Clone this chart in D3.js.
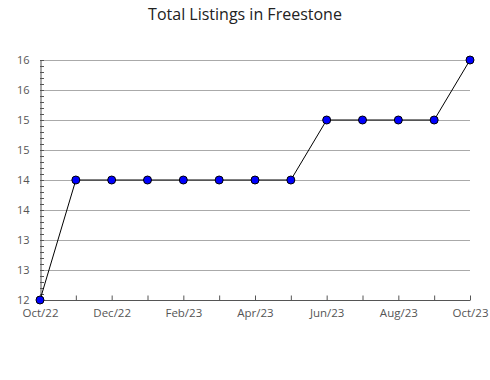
<!DOCTYPE html>
<html><head><meta charset="utf-8">
<script src="https://cdn.jsdelivr.net/npm/d3@7"></script>
<style>body{margin:0;background:#fff}svg{display:block}</style>
</head><body>
<script>
const months = ["Oct/22","Nov/22","Dec/22","Jan/23","Feb/23","Mar/23","Apr/23","May/23","Jun/23","Jul/23","Aug/23","Sep/23","Oct/23"];
const values = [12,14,14,14,14,14,14,14,15,15,15,15,16];
const yTicks = [12,12.5,13,13.5,14,14.5,15,15.5,16];
const yTickLabels = ["12","13","13","14","14","15","15","16","16"];
const xLabelShown = [true,false,true,false,true,false,true,false,true,false,true,false,true];
const title = "Total Listings in Freestone";

const W=490,H=380, L=40, R=470, T=60, B=300;
const svg = d3.select("body").append("svg").attr("width",W).attr("height",H);
const font = "'Open Sans', sans-serif";

svg.append("text").attr("x",245).attr("y",20).attr("text-anchor","middle")
  .attr("font-family",font).attr("font-size",16).attr("fill","#222").text(title);

const x = d3.scalePoint().domain(months).range([L,R]);
const y = d3.scaleLinear().domain([12,16]).range([B,T]);

// gridlines
svg.append("g").selectAll("line").data(yTicks.filter(d=>d>12)).join("line")
  .attr("x1",L).attr("x2",R).attr("y1",d=>y(d)+0.5).attr("y2",d=>y(d)+0.5)
  .attr("stroke","#aaa").attr("stroke-width",1);

// minor y ticks
const minor = d3.range(120,161).map(d=>d/10);
svg.append("g").selectAll("line").data(minor).join("line")
  .attr("x1",L).attr("x2",L+4).attr("y1",d=>Math.round(y(d))+0.5).attr("y2",d=>Math.round(y(d))+0.5)
  .attr("stroke","#555");

// y axis
const yAxis = d3.axisLeft(y).tickValues(yTicks).tickSize(0).tickPadding(11)
  .tickFormat((d,i)=>yTickLabels[i]);
const gy = svg.append("g").attr("transform",`translate(${L+0.5},0)`).call(yAxis);
gy.select(".domain").attr("stroke","#555");
gy.selectAll("text").attr("font-family",font).attr("font-size",11).attr("fill","#555");

// x axis
const xAxis = d3.axisBottom(x).tickSize(-5).tickPadding(8)
  .tickFormat((d,i)=>xLabelShown[i]?d:"");
const gx = svg.append("g").attr("transform",`translate(0,${B+0.5})`).call(xAxis);
gx.select(".domain").attr("stroke","#555").attr("d",`M${L},0H${R}`);
gx.selectAll(".tick line").attr("stroke","#555");
gx.selectAll("text").attr("font-family",font).attr("font-size",11.5).attr("fill","#555");

// line
svg.append("path").datum(values)
  .attr("d", d3.line().x((d,i)=>x(months[i])).y(d=>y(d)))
  .attr("fill","none").attr("stroke","#000").attr("stroke-width",1);

svg.append("g").selectAll("circle").data(values).join("circle")
  .attr("cx",(d,i)=>x(months[i])).attr("cy",d=>y(d)).attr("r",4)
  .attr("fill","#0000ff").attr("stroke","#000").attr("stroke-width",1);
</script>
</body></html>
